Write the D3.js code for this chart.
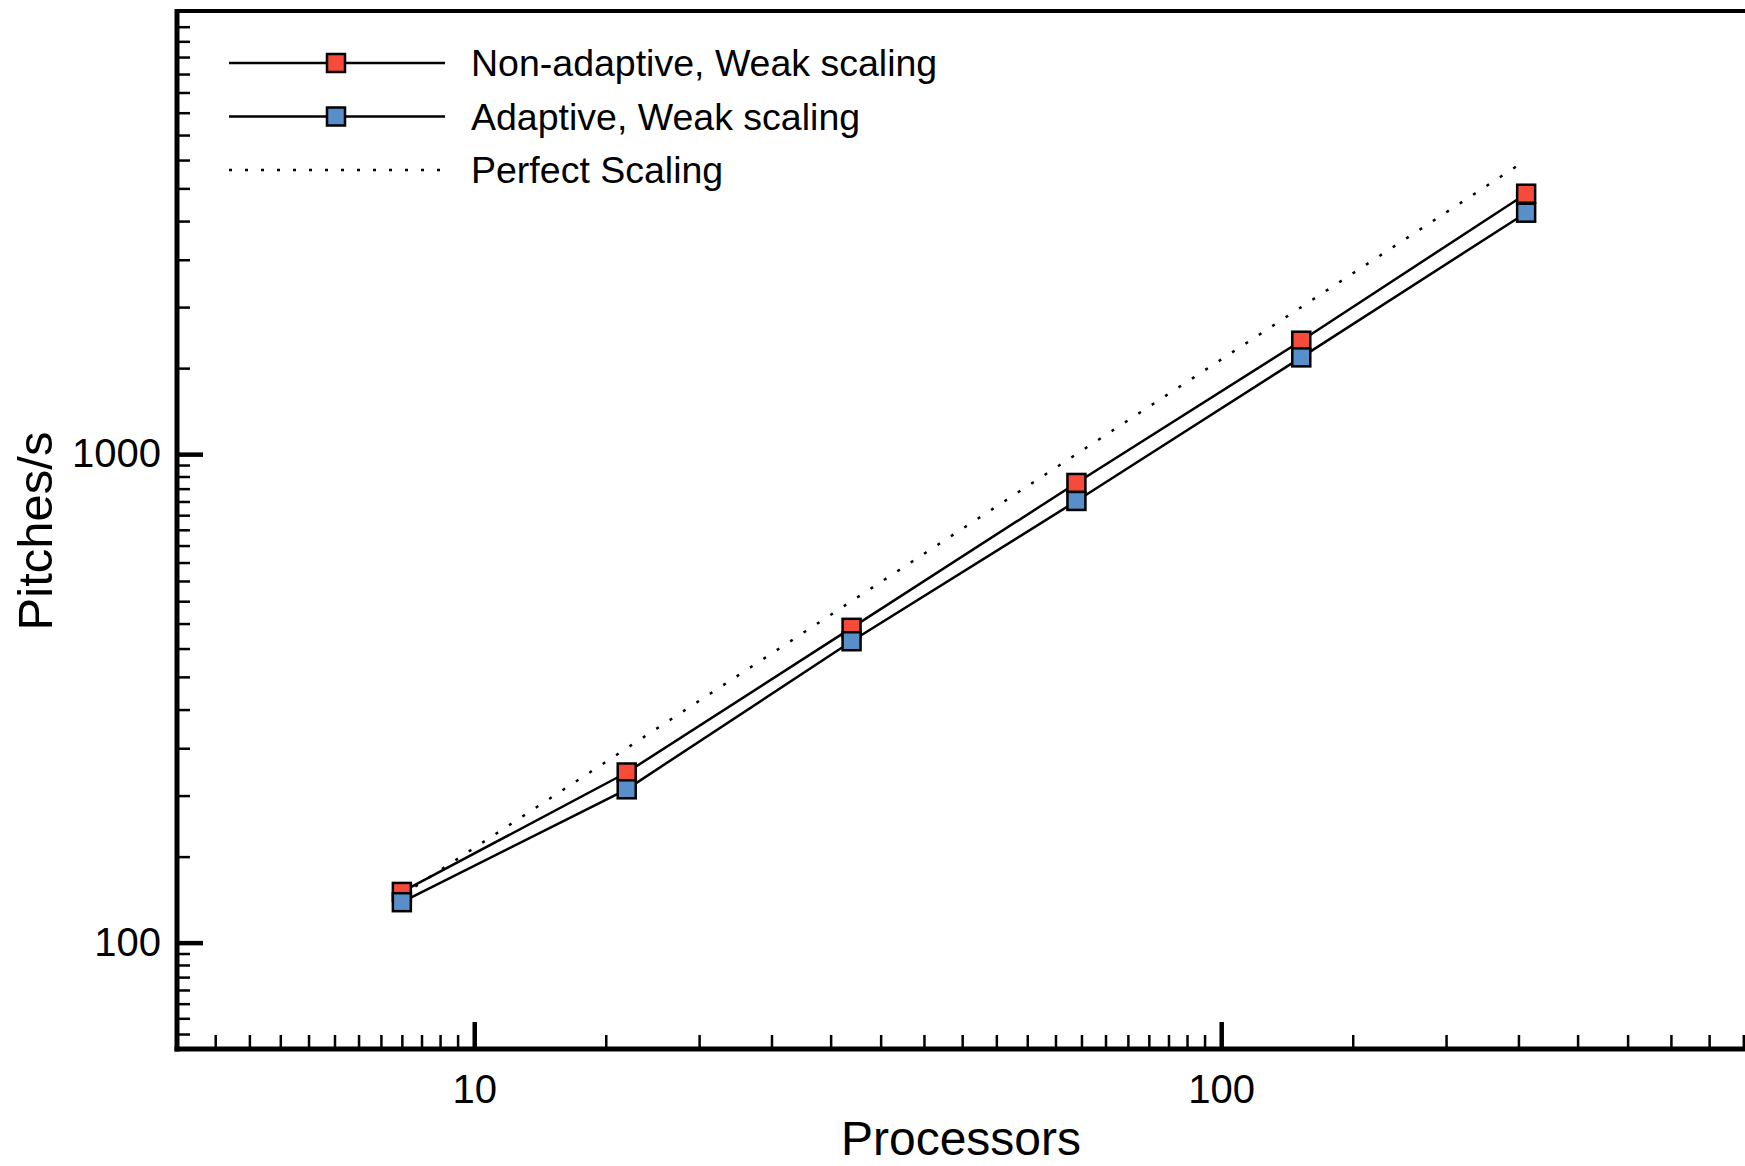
<!DOCTYPE html>
<html>
<head>
<meta charset="utf-8">
<script src="https://cdn.jsdelivr.net/npm/d3@7"></script>
<style>
  body { margin: 0; background: #fff; }
  svg { display: block; font-family: "Liberation Sans", Arial, sans-serif; }
</style>
</head>
<body>
<svg id="chart" width="1745" height="1166"></svg>
<script>
// data
var processors   = [8, 16, 32, 64, 128, 256];
var nonAdaptive  = [127, 223, 441, 873, 1707, 3413];
var adaptive     = [121, 206, 414, 802, 1578, 3121];
var perfect      = [125, 250, 500, 1000, 2000, 4000];

var xTickLabels = [10, 100];
var yTickLabels = [100, 1000];

var seriesNames = ["Non-adaptive, Weak scaling", "Adaptive, Weak scaling", "Perfect Scaling"];

var dimensions = {
    width: 1745,
    height: 1166,
    left: 177,
    right: 1751,
    top: 11,
    bottom: 1049
}

var svg = d3.select("#chart")

var xScale = d3.scaleLog()
               .domain([4, 512])
               .range([dimensions.left, dimensions.right])

var yScale = d3.scaleLog()
               .domain([60, 8000])
               .range([dimensions.bottom + 2, dimensions.top + 2])

// minor tick positions
var xMinor = d3.range(4.5, 10, 0.5).concat(d3.range(15, 100, 5), d3.range(150, 1000, 50))
               .filter(d => d > 4 && d < 512)
var yMinor = d3.range(65, 100, 5).concat(d3.range(150, 1000, 50), d3.range(1500, 8000, 500))

// frame (top border, left and bottom axes)
svg.append("line")
   .attr("x1", dimensions.left).attr("x2", dimensions.width + 10)
   .attr("y1", dimensions.top).attr("y2", dimensions.top)
   .attr("stroke", "black").attr("stroke-width", 4)

svg.append("line")
   .attr("x1", dimensions.left).attr("x2", dimensions.left)
   .attr("y1", dimensions.top - 2).attr("y2", dimensions.bottom + 2.5)
   .attr("stroke", "black").attr("stroke-width", 5)

svg.append("line")
   .attr("x1", dimensions.left - 2.5).attr("x2", dimensions.width + 10)
   .attr("y1", dimensions.bottom).attr("y2", dimensions.bottom)
   .attr("stroke", "black").attr("stroke-width", 5)

// x axis ticks
var xMinorAxis = svg.append("g")
   .attr("transform", `translate(0,${dimensions.bottom})`)
   .call(d3.axisBottom(xScale).tickValues(xMinor).tickSize(-14).tickFormat(""))
var xMajorAxis = svg.append("g")
   .attr("transform", `translate(0,${dimensions.bottom})`)
   .call(d3.axisBottom(xScale).tickValues(xTickLabels).tickSize(-27).tickPadding(26).tickFormat(d3.format("d")))

xMinorAxis.selectAll("line").attr("stroke-width", 2.5)
xMajorAxis.selectAll("line").attr("stroke-width", 4.5)

// y axis ticks
var yMinorAxis = svg.append("g")
   .attr("transform", `translate(${dimensions.left},0)`)
   .call(d3.axisLeft(yScale).tickValues(yMinor).tickSize(-13).tickFormat(""))
var yMajorAxis = svg.append("g")
   .attr("transform", `translate(${dimensions.left},0)`)
   .call(d3.axisLeft(yScale).tickValues(yTickLabels).tickSize(-26).tickPadding(16).tickFormat(d3.format("d")))

yMinorAxis.selectAll("line").attr("stroke-width", 2.5)
yMajorAxis.selectAll("line").attr("stroke-width", 4.5)

svg.selectAll(".domain").remove()
svg.selectAll(".tick text")
   .attr("fill", "black")
   .style("font-size", "40px")
   .style("font-family", "Liberation Sans, Arial, sans-serif")

// axis titles
svg.append("text")
   .text("Processors")
   .attr("x", (dimensions.left + dimensions.width) / 2)
   .attr("y", 1155)
   .attr("text-anchor", "middle")
   .style("font-size", "48px")

svg.append("text")
   .text("Pitches/s")
   .attr("transform", `translate(52,${(dimensions.top + dimensions.bottom) / 2 + 1}) rotate(-90)`)
   .attr("text-anchor", "middle")
   .style("font-size", "49px")

// series
var line = d3.line()
             .x(d => xScale(d[0]))
             .y(d => yScale(d[1]))

var redPts  = processors.map((p, i) => [p, nonAdaptive[i]])
var bluePts = processors.map((p, i) => [p, adaptive[i]])
var perfPts = processors.map((p, i) => [p, perfect[i]])

var markerSize = 18

function drawSeries(points, fill) {
    var g = svg.append("g")
    g.append("path")
     .attr("d", line(points))
     .attr("fill", "none")
     .attr("stroke", "black")
     .attr("stroke-width", 2.5)
    g.selectAll("rect")
     .data(points)
     .enter()
     .append("rect")
     .attr("x", d => xScale(d[0]) - markerSize / 2)
     .attr("y", d => yScale(d[1]) - markerSize / 2)
     .attr("width", markerSize)
     .attr("height", markerSize)
     .attr("fill", fill)
     .attr("stroke", "black")
     .attr("stroke-width", 2.5)
}

drawSeries(redPts, "#f64a3b")

svg.append("path")
   .attr("d", line(perfPts))
   .attr("fill", "none")
   .attr("stroke", "black")
   .attr("stroke-width", 2.5)
   .attr("stroke-dasharray", "3,13")

drawSeries(bluePts, "#588ec9")

// legend
var legendRows = [
    {name: seriesNames[0], fill: "#f64a3b", dotted: false},
    {name: seriesNames[1], fill: "#588ec9", dotted: false},
    {name: seriesNames[2], fill: null, dotted: true}
]

var legend = svg.append("g")
legendRows.forEach((r, i) => {
    var y = 63 + i * 53.5
    legend.append("line")
          .attr("x1", 229).attr("x2", 445)
          .attr("y1", y).attr("y2", y)
          .attr("stroke", "black")
          .attr("stroke-width", 2.5)
          .attr("stroke-dasharray", r.dotted ? "3,13" : null)
    if (r.fill) {
        legend.append("rect")
              .attr("x", 336 - markerSize / 2)
              .attr("y", y - markerSize / 2)
              .attr("width", markerSize)
              .attr("height", markerSize)
              .attr("fill", r.fill)
              .attr("stroke", "black")
              .attr("stroke-width", 2.5)
    }
    legend.append("text")
          .text(r.name)
          .attr("x", 471)
          .attr("y", y)
          .attr("dy", "0.35em")
          .style("font-size", "37.5px")
})
</script>
</body>
</html>
